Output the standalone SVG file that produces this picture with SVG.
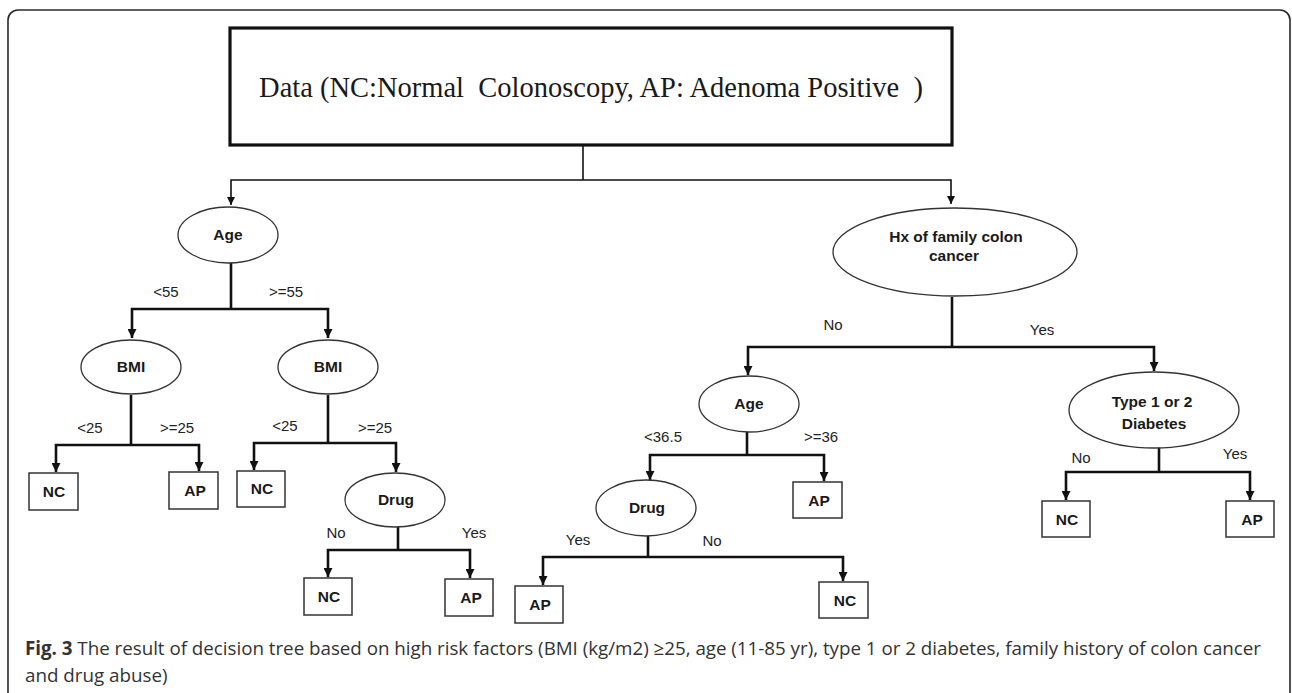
<svg xmlns="http://www.w3.org/2000/svg" width="1292" height="693" viewBox="0 0 1292 693">
<style>
.frame{fill:none;stroke:#2a2a2a;stroke-width:1.6}
.root{fill:#fff;stroke:#111;stroke-width:3.2}
.ell{fill:#fff;stroke:#333;stroke-width:1.3}
.box{fill:#fff;stroke:#333;stroke-width:1.5}
.node{font-family:"Liberation Sans",Arial,sans-serif;font-weight:bold;font-size:15.5px;fill:#1a1a1a;text-anchor:middle}
.lbl{font-family:"Liberation Sans",Arial,sans-serif;font-size:15px;fill:#222;text-anchor:middle}
.title{font-family:"Liberation Serif","Times New Roman",serif;font-size:28.5px;fill:#1a1a1a;text-anchor:middle}
.cap{font-family:"Open Sans","Noto Sans",sans-serif;font-size:18.8px;fill:#333}
.e{fill:none;stroke:#111;stroke-width:2.6}
.t{fill:none;stroke:#111;stroke-width:1.6}
.a{fill:none;stroke:#111;stroke-width:2.6;marker-end:url(#ah)}
.at{fill:none;stroke:#111;stroke-width:1.6;marker-end:url(#ahs)}
</style>
<defs>
<marker id="ah" viewBox="0 0 10 10" refX="10" refY="5" markerWidth="11" markerHeight="9" markerUnits="userSpaceOnUse" orient="auto"><path d="M0,0 L10,5 L0,10 z" fill="#111"/></marker>
<marker id="ahs" viewBox="0 0 10 10" refX="10" refY="5" markerWidth="10" markerHeight="8" markerUnits="userSpaceOnUse" orient="auto"><path d="M0,0 L10,5 L0,10 z" fill="#111"/></marker>
</defs>
<rect class="frame" x="8" y="10" width="1282" height="720" rx="10"/>

<g id="connectors">
<path class="t" d="M583,145 V180"/>
<path class="at" d="M583,180 H231 V205"/>
<path class="at" d="M583,180 H951 V204"/>
<path class="e" d="M231,263 V309"/>
<path class="a" d="M231,309 H132 V338"/>
<path class="a" d="M231,309 H328 V338"/>
<path class="e" d="M131,395 V445"/>
<path class="a" d="M131,445 H56 V472"/>
<path class="a" d="M131,445 H199 V471"/>
<path class="e" d="M328,395 V443"/>
<path class="a" d="M328,443 H254 V470"/>
<path class="a" d="M328,443 H396 V472"/>
<path class="e" d="M398,527 V550"/>
<path class="a" d="M398,550 H328 V577"/>
<path class="a" d="M398,550 H470 V578"/>
<path class="e" d="M952,297 V347"/>
<path class="a" d="M952,347 H748 V375"/>
<path class="a" d="M952,347 H1154 V371"/>
<path class="e" d="M747,432 V455"/>
<path class="a" d="M747,455 H650 V480"/>
<path class="a" d="M747,455 H824 V481"/>
<path class="e" d="M648,535 V557"/>
<path class="a" d="M648,557 H543 V585"/>
<path class="a" d="M648,557 H843 V581"/>
<path class="e" d="M1159,447 V472"/>
<path class="a" d="M1159,472 H1066 V500"/>
<path class="a" d="M1159,472 H1250 V500"/>
</g>

<g id="edge-labels">
<text class="lbl" x="166" y="297">&lt;55</text>
<text class="lbl" x="286" y="297">&gt;=55</text>
<text class="lbl" x="90" y="433">&lt;25</text>
<text class="lbl" x="177" y="433">&gt;=25</text>
<text class="lbl" x="285" y="431">&lt;25</text>
<text class="lbl" x="375" y="433">&gt;=25</text>
<text class="lbl" x="336" y="538">No</text>
<text class="lbl" x="474" y="538">Yes</text>
<text class="lbl" x="833" y="330">No</text>
<text class="lbl" x="1042" y="335">Yes</text>
<text class="lbl" x="663" y="442">&lt;36.5</text>
<text class="lbl" x="821" y="442">&gt;=36</text>
<text class="lbl" x="578" y="545">Yes</text>
<text class="lbl" x="712" y="546">No</text>
<text class="lbl" x="1081" y="463">No</text>
<text class="lbl" x="1235" y="459">Yes</text>
</g>

<g id="n-root"><rect class="root" x="230" y="28" width="722" height="117"/><text class="title" x="591" y="97" xml:space="preserve">Data (NC:Normal  Colonoscopy, AP: Adenoma Positive  )</text></g>

<g id="n-age1"><ellipse class="ell" cx="228" cy="235" rx="50" ry="28"/><text class="node" x="228" y="240">Age</text></g>
<g id="n-bmi1"><ellipse class="ell" cx="131" cy="367" rx="50" ry="27"/><text class="node" x="131" y="372">BMI</text></g>
<g id="n-bmi2"><ellipse class="ell" cx="328" cy="367" rx="50" ry="27"/><text class="node" x="328" y="372">BMI</text></g>
<g id="n-nc1"><rect class="box" x="29" y="473" width="49" height="37"/><text class="node" x="54" y="497">NC</text></g>
<g id="n-ap1"><rect class="box" x="169" y="472" width="49" height="37"/><text class="node" x="195" y="496">AP</text></g>
<g id="n-nc2"><rect class="box" x="237" y="471" width="48" height="36"/><text class="node" x="262" y="494">NC</text></g>
<g id="n-drug1"><ellipse class="ell" cx="395" cy="500" rx="50" ry="27"/><text class="node" x="396" y="505">Drug</text></g>
<g id="n-nc3"><rect class="box" x="304" y="578" width="48" height="37"/><text class="node" x="329" y="602">NC</text></g>
<g id="n-ap2"><rect class="box" x="445" y="579" width="48" height="37"/><text class="node" x="471" y="603">AP</text></g>

<g id="n-hx"><ellipse class="ell" cx="955" cy="252" rx="122" ry="44"/><text class="node" x="956" y="242">Hx of family colon</text><text class="node" x="954" y="261">cancer</text></g>
<g id="n-age2"><ellipse class="ell" cx="749" cy="404" rx="50" ry="28"/><text class="node" x="749" y="409">Age</text></g>
<g id="n-ap3"><rect class="box" x="793" y="482" width="49" height="36"/><text class="node" x="819" y="506">AP</text></g>
<g id="n-drug2"><ellipse class="ell" cx="646" cy="508" rx="50" ry="28"/><text class="node" x="647" y="513">Drug</text></g>
<g id="n-ap4"><rect class="box" x="515" y="586" width="48" height="37"/><text class="node" x="540" y="610">AP</text></g>
<g id="n-nc4"><rect class="box" x="819" y="582" width="49" height="36"/><text class="node" x="845" y="606">NC</text></g>
<g id="n-type"><ellipse class="ell" cx="1154" cy="410" rx="85" ry="38"/><text class="node" x="1152" y="407">Type 1 or 2</text><text class="node" x="1154" y="429">Diabetes</text></g>
<g id="n-nc5"><rect class="box" x="1042" y="501" width="48" height="36"/><text class="node" x="1067" y="525">NC</text></g>
<g id="n-ap5"><rect class="box" x="1226" y="501" width="48" height="36"/><text class="node" x="1252" y="525">AP</text></g>

<g id="caption">
<text class="cap" x="25" y="655" textLength="1236" lengthAdjust="spacing"><tspan font-weight="bold">Fig. 3</tspan> The result of decision tree based on high risk factors (BMI (kg/m2) ≥25, age (11-85 yr), type 1 or 2 diabetes, family history of colon cancer</text>
<text class="cap" x="25" y="682">and drug abuse)</text>
</g>
</svg>
